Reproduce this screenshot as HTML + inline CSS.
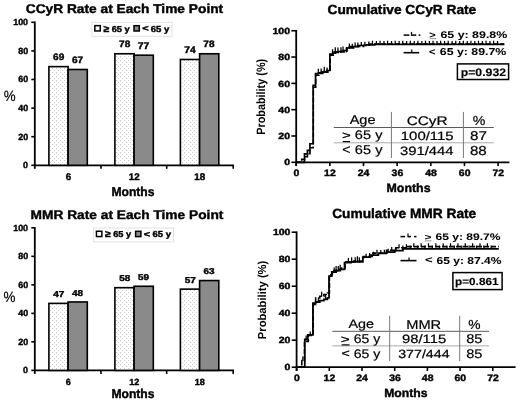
<!DOCTYPE html>
<html><head><meta charset="utf-8"><title>Chart</title>
<style>
html,body{margin:0;padding:0;background:#fff;}
body{width:520px;height:401px;overflow:hidden;}
svg{display:block;font-family:"Liberation Sans",sans-serif;text-rendering:geometricPrecision;will-change:transform;}
</style></head>
<body>
<svg width="520" height="401" viewBox="0 0 520 401">
<defs>
<pattern id="dots" x="0" y="0" width="4" height="4" patternUnits="userSpaceOnUse">
<rect width="4" height="4" fill="#fff"/>
<rect x="0" y="0" width="1" height="1" fill="#c8c8c8"/>
<rect x="2" y="2" width="1" height="1" fill="#c8c8c8"/>
</pattern>
</defs>
<rect width="520" height="401" fill="#fff"/>
<line x1="34.80" y1="21.50" x2="34.80" y2="168.80" stroke="#000" stroke-width="1.8" />
<line x1="31.30" y1="165.30" x2="34.80" y2="165.30" stroke="#000" stroke-width="1.6" />
<text x="23.12" y="168.20" font-size="8.89" font-weight="bold" fill="#000" stroke="#000" stroke-width="0.4" textLength="4.94" lengthAdjust="spacingAndGlyphs" >0</text>
<line x1="31.30" y1="136.70" x2="34.80" y2="136.70" stroke="#000" stroke-width="1.6" />
<text x="18.19" y="139.60" font-size="8.89" font-weight="bold" fill="#000" stroke="#000" stroke-width="0.4" textLength="9.89" lengthAdjust="spacingAndGlyphs" >20</text>
<line x1="31.30" y1="108.10" x2="34.80" y2="108.10" stroke="#000" stroke-width="1.6" />
<text x="18.19" y="111.00" font-size="8.89" font-weight="bold" fill="#000" stroke="#000" stroke-width="0.4" textLength="9.89" lengthAdjust="spacingAndGlyphs" >40</text>
<line x1="31.30" y1="79.50" x2="34.80" y2="79.50" stroke="#000" stroke-width="1.6" />
<text x="18.19" y="82.40" font-size="8.89" font-weight="bold" fill="#000" stroke="#000" stroke-width="0.4" textLength="9.89" lengthAdjust="spacingAndGlyphs" >60</text>
<line x1="31.30" y1="50.90" x2="34.80" y2="50.90" stroke="#000" stroke-width="1.6" />
<text x="18.19" y="53.80" font-size="8.89" font-weight="bold" fill="#000" stroke="#000" stroke-width="0.4" textLength="9.89" lengthAdjust="spacingAndGlyphs" >80</text>
<line x1="31.30" y1="22.30" x2="34.80" y2="22.30" stroke="#000" stroke-width="1.6" />
<text x="13.23" y="25.20" font-size="8.89" font-weight="bold" fill="#000" stroke="#000" stroke-width="0.4" textLength="14.83" lengthAdjust="spacingAndGlyphs" >100</text>
<line x1="33.90" y1="165.30" x2="234.00" y2="165.30" stroke="#000" stroke-width="1.8" />
<line x1="101.00" y1="165.30" x2="101.00" y2="168.80" stroke="#000" stroke-width="1.6" />
<line x1="166.70" y1="165.30" x2="166.70" y2="168.80" stroke="#000" stroke-width="1.6" />
<line x1="233.20" y1="165.30" x2="233.20" y2="168.80" stroke="#000" stroke-width="1.6" />
<rect x="48.90" y="66.63" width="19.20" height="98.67" fill="url(#dots)" stroke="#000" stroke-width="1.6" />
<rect x="68.10" y="69.49" width="19.20" height="95.81" fill="#8a8a8a" stroke="#000" stroke-width="1.6" />
<text x="53.10" y="60.23" font-size="9.32" font-weight="bold" fill="#000" stroke="#000" stroke-width="0.4" textLength="11.20" lengthAdjust="spacingAndGlyphs" >69</text>
<text x="71.94" y="63.09" font-size="9.32" font-weight="bold" fill="#000" stroke="#000" stroke-width="0.4" textLength="11.20" lengthAdjust="spacingAndGlyphs" >67</text>
<text x="65.67" y="179.50" font-size="9.61" font-weight="bold" fill="#000" stroke="#000" stroke-width="0.4" textLength="5.45" lengthAdjust="spacingAndGlyphs" >6</text>
<rect x="114.90" y="53.76" width="19.20" height="111.54" fill="url(#dots)" stroke="#000" stroke-width="1.6" />
<rect x="134.10" y="55.19" width="19.20" height="110.11" fill="#8a8a8a" stroke="#000" stroke-width="1.6" />
<text x="119.05" y="47.36" font-size="9.32" font-weight="bold" fill="#000" stroke="#000" stroke-width="0.4" textLength="11.20" lengthAdjust="spacingAndGlyphs" >78</text>
<text x="137.83" y="48.79" font-size="9.45" font-weight="bold" fill="#000" stroke="#000" stroke-width="0.4" textLength="11.36" lengthAdjust="spacingAndGlyphs" >77</text>
<text x="128.85" y="179.50" font-size="9.61" font-weight="bold" fill="#000" stroke="#000" stroke-width="0.4" textLength="10.90" lengthAdjust="spacingAndGlyphs" >12</text>
<rect x="180.40" y="59.48" width="19.20" height="105.82" fill="url(#dots)" stroke="#000" stroke-width="1.6" />
<rect x="199.60" y="53.76" width="19.20" height="111.54" fill="#8a8a8a" stroke="#000" stroke-width="1.6" />
<text x="184.34" y="53.08" font-size="9.45" font-weight="bold" fill="#000" stroke="#000" stroke-width="0.4" textLength="11.36" lengthAdjust="spacingAndGlyphs" >74</text>
<text x="203.35" y="47.36" font-size="9.32" font-weight="bold" fill="#000" stroke="#000" stroke-width="0.4" textLength="11.20" lengthAdjust="spacingAndGlyphs" >78</text>
<text x="194.30" y="179.50" font-size="9.61" font-weight="bold" fill="#000" stroke="#000" stroke-width="0.4" textLength="10.90" lengthAdjust="spacingAndGlyphs" >18</text>
<text x="111.48" y="195.50" font-size="12.69" font-weight="bold" fill="#000" stroke="#000" stroke-width="0.4" textLength="43.03" lengthAdjust="spacingAndGlyphs" >Months</text>
<text x="3.63" y="101.00" font-size="14.96" font-weight="normal" fill="#000" stroke="#000" stroke-width="0.2" textLength="11.86" lengthAdjust="spacingAndGlyphs" >%</text>
<text x="25.75" y="13.00" font-size="12.69" font-weight="bold" fill="#000" stroke="#000" stroke-width="0.4" textLength="197.41" lengthAdjust="spacingAndGlyphs" >CCyR Rate at Each Time Point</text>
<rect x="92.00" y="22.40" width="80.00" height="13.90" fill="#fff" stroke="#e2e2e2" stroke-width="1" />
<rect x="94.85" y="25.65" width="5.40" height="5.30" fill="#fff" stroke="#000" stroke-width="1.5" />
<text x="103.44" y="31.60" font-size="9.61" font-weight="bold" fill="#000" stroke="#000" stroke-width="0.4" textLength="5.71" lengthAdjust="spacingAndGlyphs" >≥</text>
<text x="111.66" y="31.50" font-size="8.60" font-weight="bold" fill="#000" stroke="#000" stroke-width="0.4" textLength="17.90" lengthAdjust="spacingAndGlyphs" >65 y</text>
<rect x="134.00" y="25.70" width="5.30" height="5.30" fill="#8a8a8a" stroke="#000" stroke-width="1.5" />
<text x="142.28" y="31.25" font-size="8.33" font-weight="bold" fill="#000" stroke="#000" stroke-width="0.4" textLength="6.42" lengthAdjust="spacingAndGlyphs" >&lt;</text>
<text x="150.84" y="31.50" font-size="8.75" font-weight="bold" fill="#000" stroke="#000" stroke-width="0.4" textLength="18.52" lengthAdjust="spacingAndGlyphs" >65 y</text>
<line x1="34.80" y1="227.00" x2="34.80" y2="373.90" stroke="#000" stroke-width="1.8" />
<line x1="31.30" y1="370.40" x2="34.80" y2="370.40" stroke="#000" stroke-width="1.6" />
<text x="23.12" y="373.30" font-size="8.89" font-weight="bold" fill="#000" stroke="#000" stroke-width="0.4" textLength="4.94" lengthAdjust="spacingAndGlyphs" >0</text>
<line x1="31.30" y1="341.88" x2="34.80" y2="341.88" stroke="#000" stroke-width="1.6" />
<text x="18.19" y="344.78" font-size="8.89" font-weight="bold" fill="#000" stroke="#000" stroke-width="0.4" textLength="9.89" lengthAdjust="spacingAndGlyphs" >20</text>
<line x1="31.30" y1="313.36" x2="34.80" y2="313.36" stroke="#000" stroke-width="1.6" />
<text x="18.19" y="316.26" font-size="8.89" font-weight="bold" fill="#000" stroke="#000" stroke-width="0.4" textLength="9.89" lengthAdjust="spacingAndGlyphs" >40</text>
<line x1="31.30" y1="284.84" x2="34.80" y2="284.84" stroke="#000" stroke-width="1.6" />
<text x="18.19" y="287.74" font-size="8.89" font-weight="bold" fill="#000" stroke="#000" stroke-width="0.4" textLength="9.89" lengthAdjust="spacingAndGlyphs" >60</text>
<line x1="31.30" y1="256.32" x2="34.80" y2="256.32" stroke="#000" stroke-width="1.6" />
<text x="18.19" y="259.22" font-size="8.89" font-weight="bold" fill="#000" stroke="#000" stroke-width="0.4" textLength="9.89" lengthAdjust="spacingAndGlyphs" >80</text>
<line x1="31.30" y1="227.80" x2="34.80" y2="227.80" stroke="#000" stroke-width="1.6" />
<text x="13.23" y="230.70" font-size="8.89" font-weight="bold" fill="#000" stroke="#000" stroke-width="0.4" textLength="14.83" lengthAdjust="spacingAndGlyphs" >100</text>
<line x1="33.90" y1="370.40" x2="234.00" y2="370.40" stroke="#000" stroke-width="1.8" />
<line x1="101.00" y1="370.40" x2="101.00" y2="373.90" stroke="#000" stroke-width="1.6" />
<line x1="166.70" y1="370.40" x2="166.70" y2="373.90" stroke="#000" stroke-width="1.6" />
<line x1="233.20" y1="370.40" x2="233.20" y2="373.90" stroke="#000" stroke-width="1.6" />
<rect x="48.90" y="303.38" width="19.20" height="67.02" fill="url(#dots)" stroke="#000" stroke-width="1.6" />
<rect x="68.10" y="301.95" width="19.20" height="68.45" fill="#8a8a8a" stroke="#000" stroke-width="1.6" />
<text x="53.27" y="296.98" font-size="8.58" font-weight="bold" fill="#000" stroke="#000" stroke-width="0.4" textLength="11.17" lengthAdjust="spacingAndGlyphs" >47</text>
<text x="72.08" y="295.55" font-size="8.46" font-weight="bold" fill="#000" stroke="#000" stroke-width="0.4" textLength="11.01" lengthAdjust="spacingAndGlyphs" >48</text>
<text x="65.87" y="384.50" font-size="8.89" font-weight="bold" fill="#000" stroke="#000" stroke-width="0.4" textLength="5.04" lengthAdjust="spacingAndGlyphs" >6</text>
<rect x="114.90" y="287.69" width="19.20" height="82.71" fill="url(#dots)" stroke="#000" stroke-width="1.6" />
<rect x="134.10" y="286.27" width="19.20" height="84.13" fill="#8a8a8a" stroke="#000" stroke-width="1.6" />
<text x="119.21" y="281.29" font-size="8.46" font-weight="bold" fill="#000" stroke="#000" stroke-width="0.4" textLength="11.01" lengthAdjust="spacingAndGlyphs" >58</text>
<text x="138.03" y="279.87" font-size="8.46" font-weight="bold" fill="#000" stroke="#000" stroke-width="0.4" textLength="11.01" lengthAdjust="spacingAndGlyphs" >59</text>
<text x="129.27" y="384.50" font-size="8.89" font-weight="bold" fill="#000" stroke="#000" stroke-width="0.4" textLength="10.09" lengthAdjust="spacingAndGlyphs" >12</text>
<rect x="180.40" y="289.12" width="19.20" height="81.28" fill="url(#dots)" stroke="#000" stroke-width="1.6" />
<rect x="199.60" y="280.56" width="19.20" height="89.84" fill="#8a8a8a" stroke="#000" stroke-width="1.6" />
<text x="184.69" y="282.72" font-size="8.58" font-weight="bold" fill="#000" stroke="#000" stroke-width="0.4" textLength="11.17" lengthAdjust="spacingAndGlyphs" >57</text>
<text x="203.49" y="274.16" font-size="8.46" font-weight="bold" fill="#000" stroke="#000" stroke-width="0.4" textLength="11.01" lengthAdjust="spacingAndGlyphs" >63</text>
<text x="194.72" y="384.50" font-size="8.89" font-weight="bold" fill="#000" stroke="#000" stroke-width="0.4" textLength="10.09" lengthAdjust="spacingAndGlyphs" >18</text>
<text x="111.48" y="397.50" font-size="12.69" font-weight="bold" fill="#000" stroke="#000" stroke-width="0.4" textLength="43.03" lengthAdjust="spacingAndGlyphs" >Months</text>
<text x="3.53" y="302.00" font-size="14.96" font-weight="normal" fill="#000" stroke="#000" stroke-width="0.2" textLength="11.96" lengthAdjust="spacingAndGlyphs" >%</text>
<text x="30.57" y="218.60" font-size="12.41" font-weight="bold" fill="#000" stroke="#000" stroke-width="0.4" textLength="192.80" lengthAdjust="spacingAndGlyphs" >MMR Rate at Each Time Point</text>
<rect x="93.60" y="228.00" width="80.00" height="13.90" fill="#fff" stroke="#e2e2e2" stroke-width="1" />
<rect x="96.45" y="231.25" width="5.40" height="5.30" fill="#fff" stroke="#000" stroke-width="1.5" />
<text x="105.04" y="237.20" font-size="9.61" font-weight="bold" fill="#000" stroke="#000" stroke-width="0.4" textLength="5.71" lengthAdjust="spacingAndGlyphs" >≥</text>
<text x="113.26" y="237.10" font-size="8.60" font-weight="bold" fill="#000" stroke="#000" stroke-width="0.4" textLength="17.90" lengthAdjust="spacingAndGlyphs" >65 y</text>
<rect x="135.60" y="231.30" width="5.30" height="5.30" fill="#8a8a8a" stroke="#000" stroke-width="1.5" />
<text x="143.88" y="236.85" font-size="8.33" font-weight="bold" fill="#000" stroke="#000" stroke-width="0.4" textLength="6.42" lengthAdjust="spacingAndGlyphs" >&lt;</text>
<text x="152.44" y="237.10" font-size="8.75" font-weight="bold" fill="#000" stroke="#000" stroke-width="0.4" textLength="18.52" lengthAdjust="spacingAndGlyphs" >65 y</text>
<line x1="296.20" y1="29.95" x2="296.20" y2="166.10" stroke="#000" stroke-width="1.8" />
<line x1="291.30" y1="162.30" x2="296.20" y2="162.30" stroke="#000" stroke-width="1.6" />
<text x="284.20" y="165.45" font-size="8.89" font-weight="bold" fill="#000" stroke="#000" stroke-width="0.4" textLength="5.83" lengthAdjust="spacingAndGlyphs" >0</text>
<line x1="291.30" y1="135.99" x2="296.20" y2="135.99" stroke="#000" stroke-width="1.6" />
<text x="278.38" y="139.14" font-size="8.89" font-weight="bold" fill="#000" stroke="#000" stroke-width="0.4" textLength="11.67" lengthAdjust="spacingAndGlyphs" >20</text>
<line x1="291.30" y1="109.68" x2="296.20" y2="109.68" stroke="#000" stroke-width="1.6" />
<text x="278.38" y="112.83" font-size="8.89" font-weight="bold" fill="#000" stroke="#000" stroke-width="0.4" textLength="11.67" lengthAdjust="spacingAndGlyphs" >40</text>
<line x1="291.30" y1="83.37" x2="296.20" y2="83.37" stroke="#000" stroke-width="1.6" />
<text x="278.38" y="86.52" font-size="8.89" font-weight="bold" fill="#000" stroke="#000" stroke-width="0.4" textLength="11.67" lengthAdjust="spacingAndGlyphs" >60</text>
<line x1="291.30" y1="57.06" x2="296.20" y2="57.06" stroke="#000" stroke-width="1.6" />
<text x="278.38" y="60.21" font-size="8.89" font-weight="bold" fill="#000" stroke="#000" stroke-width="0.4" textLength="11.67" lengthAdjust="spacingAndGlyphs" >80</text>
<line x1="291.30" y1="30.75" x2="296.20" y2="30.75" stroke="#000" stroke-width="1.6" />
<text x="272.53" y="33.90" font-size="8.89" font-weight="bold" fill="#000" stroke="#000" stroke-width="0.4" textLength="17.50" lengthAdjust="spacingAndGlyphs" >100</text>
<line x1="295.30" y1="162.30" x2="509.40" y2="162.30" stroke="#000" stroke-width="1.8" />
<line x1="296.20" y1="162.30" x2="296.20" y2="166.10" stroke="#000" stroke-width="1.6" />
<text x="293.50" y="176.40" font-size="9.32" font-weight="bold" fill="#000" stroke="#000" stroke-width="0.4" textLength="5.80" lengthAdjust="spacingAndGlyphs" >0</text>
<line x1="329.85" y1="162.30" x2="329.85" y2="166.10" stroke="#000" stroke-width="1.6" />
<text x="324.14" y="176.40" font-size="9.32" font-weight="bold" fill="#000" stroke="#000" stroke-width="0.4" textLength="11.61" lengthAdjust="spacingAndGlyphs" >12</text>
<line x1="363.50" y1="162.30" x2="363.50" y2="166.10" stroke="#000" stroke-width="1.6" />
<text x="357.75" y="176.40" font-size="9.32" font-weight="bold" fill="#000" stroke="#000" stroke-width="0.4" textLength="11.61" lengthAdjust="spacingAndGlyphs" >24</text>
<line x1="397.15" y1="162.30" x2="397.15" y2="166.10" stroke="#000" stroke-width="1.6" />
<text x="391.62" y="176.40" font-size="9.32" font-weight="bold" fill="#000" stroke="#000" stroke-width="0.4" textLength="11.61" lengthAdjust="spacingAndGlyphs" >36</text>
<line x1="430.80" y1="162.30" x2="430.80" y2="166.10" stroke="#000" stroke-width="1.6" />
<text x="425.29" y="176.40" font-size="9.32" font-weight="bold" fill="#000" stroke="#000" stroke-width="0.4" textLength="11.61" lengthAdjust="spacingAndGlyphs" >48</text>
<line x1="464.45" y1="162.30" x2="464.45" y2="166.10" stroke="#000" stroke-width="1.6" />
<text x="458.87" y="176.40" font-size="9.32" font-weight="bold" fill="#000" stroke="#000" stroke-width="0.4" textLength="11.61" lengthAdjust="spacingAndGlyphs" >60</text>
<line x1="498.10" y1="162.30" x2="498.10" y2="166.10" stroke="#000" stroke-width="1.6" />
<text x="492.49" y="176.40" font-size="9.32" font-weight="bold" fill="#000" stroke="#000" stroke-width="0.4" textLength="11.61" lengthAdjust="spacingAndGlyphs" >72</text>
<text x="386.57" y="191.50" font-size="12.00" font-weight="bold" fill="#000" stroke="#000" stroke-width="0.4" textLength="43.96" lengthAdjust="spacingAndGlyphs" >Months</text>
<text transform="translate(265.00,134.83) rotate(-90)" x="0" y="0" font-size="12.07" font-weight="bold" textLength="75.98" lengthAdjust="spacingAndGlyphs">Probability (%)</text>
<text x="327.55" y="13.50" font-size="13.10" font-weight="bold" fill="#000" stroke="#000" stroke-width="0.4" textLength="148.71" lengthAdjust="spacingAndGlyphs" >Cumulative CCyR Rate</text>
<path d="M296.20,162.30H304.50V153.88H307.42V150.33H309.94V143.75H313.17V85.34H315.55V73.50H318.63V72.85H321.44V72.19H324.24V71.53H327.05V70.48H329.85V54.03H332.65V53.11H335.46V52.32H338.26V51.53H341.07V51.01H343.87V50.48H346.68V47.98H349.48V46.54H357.89V45.48H366.30V44.83H374.72V44.30H504.27" fill="none" stroke="#000" stroke-width="1.7" stroke-linejoin="miter"/>
<path d="M318.35,74.00v-5.30M324.24,72.03v-5.30M332.57,54.53v-5.30M337.98,52.82v-5.30M343.03,51.51v-5.10M349.40,48.48v-5.10M355.09,47.04v-4.50M361.26,45.98v-3.90M368.83,45.33v-3.90M376.40,44.80v-3.90M383.97,44.80v-3.90M391.54,44.80v-3.90M399.11,44.80v-3.90M406.68,44.80v-3.90M414.26,44.80v-3.90M421.83,44.80v-3.90M429.40,44.80v-3.90M436.97,44.80v-3.90M444.54,44.80v-3.90M452.11,44.80v-3.90M459.68,44.80v-3.90M467.25,44.80v-3.90M474.83,44.80v-3.90M482.40,44.80v-3.90M489.97,44.80v-3.90M497.54,44.80v-3.90" fill="none" stroke="#000" stroke-width="1.25"/>
<path d="M296.20,162.30H301.67V159.41H304.50V156.77H307.42V153.62H309.94V147.70H313.31V87.32H315.69V75.08H318.91V73.37H322.84V72.32H327.89V70.22H330.13V55.09H334.06V52.06H346.96V47.85H353.69V46.54H363.50V45.22H369.11V44.17H504.27" fill="none" stroke="#000" stroke-width="1.6" stroke-linejoin="miter" stroke-dasharray="5,2"/>
<path d="M321.16,73.87v-5.30M327.05,72.82v-5.30M335.26,52.56v-5.30M340.98,52.56v-5.30M346.39,52.56v-5.10M352.28,48.35v-4.50M357.89,47.04v-4.50M364.90,45.72v-3.90M372.47,44.67v-3.90M380.04,44.67v-3.90M387.62,44.67v-3.90M395.19,44.67v-3.90M402.76,44.67v-3.90M410.33,44.67v-3.90M417.90,44.67v-3.90M425.47,44.67v-3.90M433.04,44.67v-3.90M440.61,44.67v-3.90M448.19,44.67v-3.90M455.76,44.67v-3.90M463.33,44.67v-3.90M470.90,44.67v-3.90M478.47,44.67v-3.90M486.04,44.67v-3.90M493.61,44.67v-3.90" fill="none" stroke="#000" stroke-width="1.25"/>
<line x1="403.60" y1="35.10" x2="409.40" y2="35.10" stroke="#000" stroke-width="1.5" />
<line x1="411.50" y1="35.10" x2="416.30" y2="35.10" stroke="#000" stroke-width="1.5" />
<line x1="411.50" y1="35.80" x2="411.50" y2="31.90" stroke="#000" stroke-width="1.2" />
<line x1="418.60" y1="35.10" x2="420.40" y2="35.10" stroke="#000" stroke-width="1.5" />
<line x1="403.60" y1="52.70" x2="419.20" y2="52.70" stroke="#000" stroke-width="1.6" />
<line x1="411.70" y1="52.70" x2="411.70" y2="49.50" stroke="#000" stroke-width="1.2" />
<text x="429.33" y="37.76" font-size="9.26" font-weight="bold" fill="#000" stroke="#000" stroke-width="0.05" textLength="6.42" lengthAdjust="spacingAndGlyphs" >&gt;</text>
<text x="440.44" y="38.00" font-size="9.75" font-weight="bold" fill="#000" stroke="#000" stroke-width="0.05" textLength="66.81" lengthAdjust="spacingAndGlyphs" >65 y: 89.8%</text>
<text x="428.93" y="54.58" font-size="9.63" font-weight="bold" fill="#000" stroke="#000" stroke-width="0.05" textLength="6.42" lengthAdjust="spacingAndGlyphs" >&lt;</text>
<text x="439.84" y="55.30" font-size="10.04" font-weight="bold" fill="#000" stroke="#000" stroke-width="0.05" textLength="66.50" lengthAdjust="spacingAndGlyphs" >65 y: 89.7%</text>
<line x1="429.80" y1="38.60" x2="436.00" y2="38.60" stroke="#888" stroke-width="0.9" />
<rect x="457.40" y="63.90" width="51.20" height="15.60" fill="#fff" stroke="#000" stroke-width="1.5" />
<text x="460.70" y="75.50" font-size="10.90" font-weight="bold" fill="#000" stroke="#000" stroke-width="0.15" textLength="45.42" lengthAdjust="spacingAndGlyphs" >p=0.932</text>
<line x1="333.80" y1="127.50" x2="493.80" y2="127.50" stroke="#5a5a5a" stroke-width="1.0" />
<line x1="333.80" y1="142.80" x2="493.80" y2="142.80" stroke="#aaaaaa" stroke-width="1.0" />
<line x1="391.40" y1="111.90" x2="391.40" y2="158.00" stroke="#777" stroke-width="1.0" />
<line x1="463.40" y1="111.90" x2="463.40" y2="158.00" stroke="#777" stroke-width="1.0" />
<text x="349.66" y="124.30" font-size="12.65" font-weight="normal" fill="#000" stroke="#000" stroke-width="0.2" textLength="25.88" lengthAdjust="spacingAndGlyphs" >Age</text>
<text x="406.73" y="125.10" font-size="12.47" font-weight="normal" fill="#000" stroke="#000" stroke-width="0.2" textLength="40.88" lengthAdjust="spacingAndGlyphs" >CCyR</text>
<text x="472.70" y="124.90" font-size="13.09" font-weight="normal" fill="#000" stroke="#000" stroke-width="0.2" textLength="12.62" lengthAdjust="spacingAndGlyphs" >%</text>
<text x="341.95" y="138.83" font-size="11.03" font-weight="normal" fill="#000" stroke="#000" stroke-width="0.2" textLength="8.79" lengthAdjust="spacingAndGlyphs" >&gt;</text>
<text x="354.87" y="139.30" font-size="12.47" font-weight="normal" fill="#000" stroke="#000" stroke-width="0.2" textLength="27.57" lengthAdjust="spacingAndGlyphs" >65 y</text>
<text x="400.78" y="139.50" font-size="12.07" font-weight="normal" fill="#000" stroke="#000" stroke-width="0.2" textLength="52.93" lengthAdjust="spacingAndGlyphs" >100/115</text>
<text x="469.95" y="139.60" font-size="12.76" font-weight="normal" fill="#000" stroke="#000" stroke-width="0.2" textLength="16.94" lengthAdjust="spacingAndGlyphs" >87</text>
<text x="342.39" y="154.00" font-size="13.40" font-weight="normal" fill="#000" stroke="#000" stroke-width="0.2" textLength="8.31" lengthAdjust="spacingAndGlyphs" >&lt;</text>
<text x="354.87" y="154.30" font-size="12.62" font-weight="normal" fill="#000" stroke="#000" stroke-width="0.2" textLength="27.57" lengthAdjust="spacingAndGlyphs" >65 y</text>
<text x="400.05" y="155.10" font-size="12.14" font-weight="normal" fill="#000" stroke="#000" stroke-width="0.2" textLength="53.50" lengthAdjust="spacingAndGlyphs" >391/444</text>
<text x="469.96" y="154.70" font-size="13.05" font-weight="normal" fill="#000" stroke="#000" stroke-width="0.2" textLength="16.82" lengthAdjust="spacingAndGlyphs" >88</text>
<line x1="342.70" y1="141.60" x2="350.00" y2="141.60" stroke="#000" stroke-width="1.2" />
<line x1="296.60" y1="231.40" x2="296.60" y2="371.00" stroke="#000" stroke-width="1.8" />
<line x1="291.70" y1="367.20" x2="296.60" y2="367.20" stroke="#000" stroke-width="1.6" />
<text x="284.60" y="370.35" font-size="8.89" font-weight="bold" fill="#000" stroke="#000" stroke-width="0.4" textLength="5.83" lengthAdjust="spacingAndGlyphs" >0</text>
<line x1="291.70" y1="340.20" x2="296.60" y2="340.20" stroke="#000" stroke-width="1.6" />
<text x="278.78" y="343.35" font-size="8.89" font-weight="bold" fill="#000" stroke="#000" stroke-width="0.4" textLength="11.67" lengthAdjust="spacingAndGlyphs" >20</text>
<line x1="291.70" y1="313.20" x2="296.60" y2="313.20" stroke="#000" stroke-width="1.6" />
<text x="278.78" y="316.35" font-size="8.89" font-weight="bold" fill="#000" stroke="#000" stroke-width="0.4" textLength="11.67" lengthAdjust="spacingAndGlyphs" >40</text>
<line x1="291.70" y1="286.20" x2="296.60" y2="286.20" stroke="#000" stroke-width="1.6" />
<text x="278.78" y="289.35" font-size="8.89" font-weight="bold" fill="#000" stroke="#000" stroke-width="0.4" textLength="11.67" lengthAdjust="spacingAndGlyphs" >60</text>
<line x1="291.70" y1="259.20" x2="296.60" y2="259.20" stroke="#000" stroke-width="1.6" />
<text x="278.78" y="262.35" font-size="8.89" font-weight="bold" fill="#000" stroke="#000" stroke-width="0.4" textLength="11.67" lengthAdjust="spacingAndGlyphs" >80</text>
<line x1="291.70" y1="232.20" x2="296.60" y2="232.20" stroke="#000" stroke-width="1.6" />
<text x="272.93" y="235.35" font-size="8.89" font-weight="bold" fill="#000" stroke="#000" stroke-width="0.4" textLength="17.50" lengthAdjust="spacingAndGlyphs" >100</text>
<line x1="295.70" y1="367.20" x2="515.60" y2="367.20" stroke="#000" stroke-width="1.8" />
<line x1="296.60" y1="367.20" x2="296.60" y2="371.00" stroke="#000" stroke-width="1.6" />
<text x="293.90" y="381.30" font-size="9.32" font-weight="bold" fill="#000" stroke="#000" stroke-width="0.4" textLength="5.80" lengthAdjust="spacingAndGlyphs" >0</text>
<line x1="329.30" y1="367.20" x2="329.30" y2="371.00" stroke="#000" stroke-width="1.6" />
<text x="323.59" y="381.30" font-size="9.32" font-weight="bold" fill="#000" stroke="#000" stroke-width="0.4" textLength="11.61" lengthAdjust="spacingAndGlyphs" >12</text>
<line x1="362.00" y1="367.20" x2="362.00" y2="371.00" stroke="#000" stroke-width="1.6" />
<text x="356.25" y="381.30" font-size="9.32" font-weight="bold" fill="#000" stroke="#000" stroke-width="0.4" textLength="11.61" lengthAdjust="spacingAndGlyphs" >24</text>
<line x1="394.70" y1="367.20" x2="394.70" y2="371.00" stroke="#000" stroke-width="1.6" />
<text x="389.17" y="381.30" font-size="9.32" font-weight="bold" fill="#000" stroke="#000" stroke-width="0.4" textLength="11.61" lengthAdjust="spacingAndGlyphs" >36</text>
<line x1="427.40" y1="367.20" x2="427.40" y2="371.00" stroke="#000" stroke-width="1.6" />
<text x="421.89" y="381.30" font-size="9.32" font-weight="bold" fill="#000" stroke="#000" stroke-width="0.4" textLength="11.61" lengthAdjust="spacingAndGlyphs" >48</text>
<line x1="460.10" y1="367.20" x2="460.10" y2="371.00" stroke="#000" stroke-width="1.6" />
<text x="454.52" y="381.30" font-size="9.32" font-weight="bold" fill="#000" stroke="#000" stroke-width="0.4" textLength="11.61" lengthAdjust="spacingAndGlyphs" >60</text>
<line x1="492.80" y1="367.20" x2="492.80" y2="371.00" stroke="#000" stroke-width="1.6" />
<text x="487.19" y="381.30" font-size="9.32" font-weight="bold" fill="#000" stroke="#000" stroke-width="0.4" textLength="11.61" lengthAdjust="spacingAndGlyphs" >72</text>
<text x="384.18" y="396.80" font-size="11.86" font-weight="bold" fill="#000" stroke="#000" stroke-width="0.4" textLength="43.34" lengthAdjust="spacingAndGlyphs" >Months</text>
<text transform="translate(265.60,339.16) rotate(-90)" x="0" y="0" font-size="11.59" font-weight="bold" textLength="78.48" lengthAdjust="spacingAndGlyphs">Probability (%)</text>
<text x="332.15" y="218.40" font-size="13.38" font-weight="bold" fill="#000" stroke="#000" stroke-width="0.4" textLength="144.12" lengthAdjust="spacingAndGlyphs" >Cumulative MMR Rate</text>
<path d="M296.60,367.20H304.78V339.52H307.77V334.80H312.95V303.07H315.68V302.00H319.76V300.64H323.85V299.29H327.39V297.94H329.03V276.07H331.75V272.02H336.11V270.67H340.20V269.32H344.56V262.57H351.10V261.90H362.82V257.17H370.18V255.15H378.35V253.39H386.53V252.04H394.70V250.69H402.88V248.80H498.80" fill="none" stroke="#000" stroke-width="1.8" stroke-linejoin="miter"/>
<path d="M306.14,340.02v-4.50M318.40,302.50v-5.00M325.49,299.79v-5.00M334.21,272.52v-5.10M338.29,271.17v-5.10M348.38,263.07v-5.10M355.19,262.40v-5.10M359.28,262.40v-5.10M366.09,257.67v-3.90M373.45,255.65v-3.90M380.80,253.89v-3.90M388.16,252.54v-3.90M395.52,251.19v-3.90M402.88,249.30v-3.90M410.23,249.30v-3.90M417.59,249.30v-3.90M424.95,249.30v-3.90M432.31,249.30v-3.90M439.66,249.30v-3.90M447.02,249.30v-3.90M454.38,249.30v-3.90M461.74,249.30v-3.90M469.09,249.30v-3.90M476.45,249.30v-3.90M483.81,249.30v-3.90M491.17,249.30v-3.90" fill="none" stroke="#000" stroke-width="1.25"/>
<path d="M296.60,367.20H301.78V360.45H304.50V341.55H308.32V335.47H313.22V304.42H315.68V297.94H319.76V296.32H323.85V294.57H327.39V292.95H329.44V274.72H332.30V270.67H337.48V269.32H341.56V267.97H345.11V261.90H353.83V260.95H363.36V256.50H372.90V253.12H386.53V250.42H396.06V247.72H406.96V246.64H498.80" fill="none" stroke="#000" stroke-width="1.6" stroke-linejoin="miter" stroke-dasharray="5,2"/>
<path d="M302.87,360.95v-4.50M310.23,335.97v-4.50M321.67,296.82v-5.00M336.11,271.17v-5.10M340.20,269.82v-5.10M351.65,262.40v-5.10M357.37,261.45v-5.10M369.63,257.00v-3.90M376.99,253.62v-3.90M384.35,253.62v-3.90M391.70,250.92v-3.90M399.06,248.22v-3.90M406.42,248.22v-3.90M413.78,247.14v-3.90M421.13,247.14v-3.90M428.49,247.14v-3.90M435.85,247.14v-3.90M443.21,247.14v-3.90M450.56,247.14v-3.90M457.92,247.14v-3.90M465.28,247.14v-3.90M472.63,247.14v-3.90M479.99,247.14v-3.90M487.35,247.14v-3.90" fill="none" stroke="#000" stroke-width="1.25"/>
<line x1="400.50" y1="236.60" x2="405.00" y2="236.60" stroke="#000" stroke-width="1.5" />
<line x1="408.00" y1="236.60" x2="411.00" y2="236.60" stroke="#000" stroke-width="1.5" />
<line x1="408.00" y1="237.30" x2="408.00" y2="233.40" stroke="#000" stroke-width="1.2" />
<line x1="414.00" y1="236.60" x2="416.50" y2="236.60" stroke="#000" stroke-width="1.5" />
<line x1="400.50" y1="260.60" x2="416.50" y2="260.60" stroke="#000" stroke-width="1.6" />
<line x1="409.00" y1="260.60" x2="409.00" y2="257.40" stroke="#000" stroke-width="1.2" />
<text x="424.49" y="239.71" font-size="8.52" font-weight="bold" fill="#000" stroke="#000" stroke-width="0.05" textLength="7.01" lengthAdjust="spacingAndGlyphs" >&gt;</text>
<text x="435.55" y="240.00" font-size="9.61" font-weight="bold" fill="#000" stroke="#000" stroke-width="0.05" textLength="64.99" lengthAdjust="spacingAndGlyphs" >65 y: 89.7%</text>
<text x="424.95" y="263.48" font-size="9.63" font-weight="bold" fill="#000" stroke="#000" stroke-width="0.05" textLength="7.59" lengthAdjust="spacingAndGlyphs" >&lt;</text>
<text x="436.55" y="263.80" font-size="10.04" font-weight="bold" fill="#000" stroke="#000" stroke-width="0.05" textLength="64.89" lengthAdjust="spacingAndGlyphs" >65 y: 87.4%</text>
<line x1="425.00" y1="240.90" x2="431.50" y2="240.90" stroke="#888" stroke-width="0.9" />
<rect x="452.90" y="272.60" width="49.20" height="17.00" fill="#fff" stroke="#000" stroke-width="1.5" />
<text x="455.03" y="284.70" font-size="10.32" font-weight="bold" fill="#000" stroke="#000" stroke-width="0.15" textLength="43.52" lengthAdjust="spacingAndGlyphs" >p=0.861</text>
<line x1="332.30" y1="331.30" x2="489.00" y2="331.30" stroke="#5a5a5a" stroke-width="1.0" />
<line x1="332.30" y1="345.90" x2="489.00" y2="345.90" stroke="#aaaaaa" stroke-width="1.0" />
<line x1="389.70" y1="315.70" x2="389.70" y2="361.00" stroke="#777" stroke-width="1.0" />
<line x1="459.70" y1="315.70" x2="459.70" y2="361.00" stroke="#777" stroke-width="1.0" />
<text x="348.46" y="328.20" font-size="12.36" font-weight="normal" fill="#000" stroke="#000" stroke-width="0.2" textLength="25.57" lengthAdjust="spacingAndGlyphs" >Age</text>
<text x="406.29" y="328.80" font-size="12.65" font-weight="normal" fill="#000" stroke="#000" stroke-width="0.2" textLength="34.91" lengthAdjust="spacingAndGlyphs" >MMR</text>
<text x="468.22" y="328.60" font-size="13.09" font-weight="normal" fill="#000" stroke="#000" stroke-width="0.2" textLength="12.29" lengthAdjust="spacingAndGlyphs" >%</text>
<text x="340.83" y="342.73" font-size="11.03" font-weight="normal" fill="#000" stroke="#000" stroke-width="0.2" textLength="9.03" lengthAdjust="spacingAndGlyphs" >&gt;</text>
<text x="353.80" y="343.20" font-size="12.62" font-weight="normal" fill="#000" stroke="#000" stroke-width="0.2" textLength="26.54" lengthAdjust="spacingAndGlyphs" >65 y</text>
<text x="402.00" y="343.20" font-size="12.14" font-weight="normal" fill="#000" stroke="#000" stroke-width="0.2" textLength="44.12" lengthAdjust="spacingAndGlyphs" >98/115</text>
<text x="466.18" y="343.20" font-size="12.62" font-weight="normal" fill="#000" stroke="#000" stroke-width="0.2" textLength="16.24" lengthAdjust="spacingAndGlyphs" >85</text>
<text x="341.49" y="357.13" font-size="11.03" font-weight="normal" fill="#000" stroke="#000" stroke-width="0.2" textLength="8.31" lengthAdjust="spacingAndGlyphs" >&lt;</text>
<text x="353.80" y="358.10" font-size="12.47" font-weight="normal" fill="#000" stroke="#000" stroke-width="0.2" textLength="26.54" lengthAdjust="spacingAndGlyphs" >65 y</text>
<text x="398.17" y="358.10" font-size="12.00" font-weight="normal" fill="#000" stroke="#000" stroke-width="0.2" textLength="51.46" lengthAdjust="spacingAndGlyphs" >377/444</text>
<text x="466.18" y="358.10" font-size="12.47" font-weight="normal" fill="#000" stroke="#000" stroke-width="0.2" textLength="16.24" lengthAdjust="spacingAndGlyphs" >85</text>
<line x1="341.60" y1="344.90" x2="349.50" y2="344.90" stroke="#000" stroke-width="1.2" />
</svg>
</body></html>
